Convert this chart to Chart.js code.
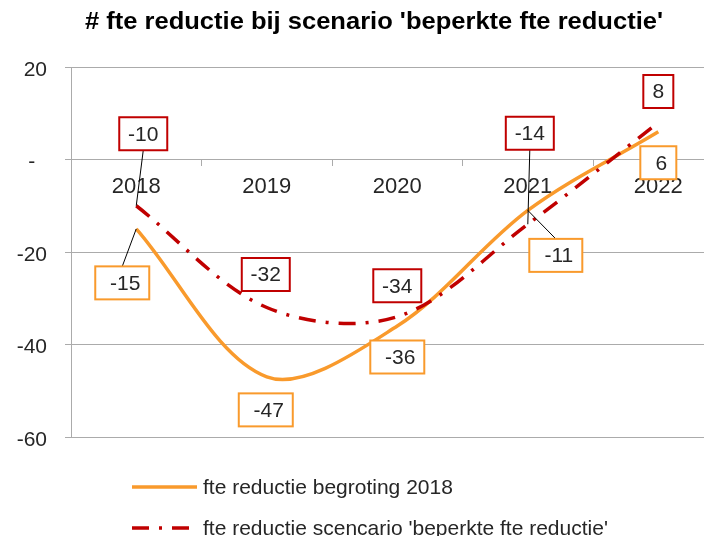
<!DOCTYPE html>
<html>
<head>
<meta charset="utf-8">
<title>fte reductie</title>
<script src="https://cdn.jsdelivr.net/npm/chart.js@4.4.1/dist/chart.umd.min.js"></script>
<style>
    html, body { margin: 0; padding: 0; background: #fff; overflow: hidden; }
    #chart { display: block; }
</style>
</head>
<body>
<canvas id="chart" width="704" height="536"></canvas>
<script>
// Chart data
const years = ['2018', '2019', '2020', '2021', '2022'];
const begroting = [-15, -47, -36, -11, 6];
const scenario = [-10, -32, -34, -14, 8];
const yTicks = [20, 0, -20, -40, -60];

const chartTitle = "# fte reductie bij scenario 'beperkte fte reductie'";
const seriesNames = ['fte reductie begroting 2018', "fte reductie scencario 'beperkte fte reductie'"];

const FONT = '"Liberation Sans", Arial, sans-serif';
const ORANGE = '#F99A2C';
const RED = '#C00000';
const GRID = '#ABABAB';
const TEXT = '#262626';

/**
 * Boxed value labels with leader lines (Excel style)
 */
const boxLabels = {
    id: 'boxLabels',
    afterDatasetsDraw(chart, args, opts) {
        const ctx = chart.ctx;
        ctx.save();
        ctx.font = opts.font;
        chart.data.datasets.forEach((ds, di) => {
            const meta = chart.getDatasetMeta(di);
            const style = opts.styles[di];
            meta.data.forEach((pt, i) => {
                const off = style.offsets[i];
                const text = String(ds.data[i].y);
                const w = Math.round(ctx.measureText(text).width + style.padX * 2);
                const h = opts.height;
                const cx = pt.x + off[0];
                const cy = pt.y + off[1];

                // leader line from box edge to the point
                if (off[2]) {
                    const ey = pt.y > cy ? cy + h / 2 : cy - h / 2;
                    ctx.strokeStyle = '#000';
                    ctx.lineWidth = 1;
                    ctx.beginPath();
                    ctx.moveTo(cx, ey);
                    ctx.lineTo(pt.x, pt.y);
                    ctx.stroke();
                }

                ctx.fillStyle = '#fff';
                ctx.fillRect(cx - w / 2, cy - h / 2, w, h);
                ctx.strokeStyle = ds.borderColor;
                ctx.lineWidth = 2;
                ctx.strokeRect(cx - w / 2, cy - h / 2, w, h);

                ctx.fillStyle = TEXT;
                ctx.textAlign = 'center';
                ctx.textBaseline = 'middle';
                ctx.fillText(text, cx + style.textShift, cy + 1);
            });
        });
        ctx.restore();
    }
};

/**
 * Title and stacked legend drawn by hand
 */
const titleLegend = {
    id: 'titleLegend',
    afterDraw(chart, args, opts) {
        const ctx = chart.ctx;
        ctx.save();

        // title, fitted to the reference width
        ctx.font = 'bold 24px ' + FONT;
        const tw = ctx.measureText(chartTitle).width;
        ctx.translate(opts.titleX, opts.titleY);
        ctx.scale(opts.titleWidth / tw, 1);
        ctx.fillStyle = '#000';
        ctx.textAlign = 'center';
        ctx.textBaseline = 'alphabetic';
        ctx.fillText(chartTitle, 0, 0);
        ctx.setTransform(1, 0, 0, 1, 0, 0);

        // legend rows
        chart.data.datasets.forEach((ds, i) => {
            const y = opts.rows[i];
            ctx.strokeStyle = ds.borderColor;
            ctx.lineWidth = ds.borderWidth;
            ctx.setLineDash(ds.borderDash || []);
            ctx.beginPath();
            ctx.moveTo(opts.lineX0, y);
            ctx.lineTo(opts.lineX1, y);
            ctx.stroke();
            ctx.setLineDash([]);

            ctx.font = '21px ' + FONT;
            ctx.fillStyle = TEXT;
            ctx.textAlign = 'left';
            ctx.textBaseline = 'middle';
            ctx.fillText(ds.label, opts.textX, y + 1);
        });
        ctx.restore();
    }
};

const ctx = document.getElementById('chart').getContext('2d');

new Chart(ctx, {
    type: 'line',
    data: {
        datasets: [
            {
                label: seriesNames[0],
                data: begroting.map((v, i) => ({ x: i, y: v })),
                borderColor: ORANGE,
                borderWidth: 3.5,
                tension: 0.33,
                pointRadius: 0,
                fill: false,
                order: 1
            },
            {
                label: seriesNames[1],
                data: scenario.map((v, i) => ({ x: i, y: v })),
                borderColor: RED,
                borderWidth: 3.5,
                borderDash: [17, 10, 3, 10],
                borderCapStyle: 'butt',
                tension: 0.33,
                pointRadius: 0,
                fill: false,
                order: 0
            }
        ]
    },
    options: {
        responsive: false,
        animation: false,
        layout: {
            padding: { top: 67, bottom: 99, left: 0, right: 0 }
        },
        plugins: {
            legend: { display: false },
            title: { display: false },
            tooltip: { enabled: false },
            boxLabels: {
                font: '21px ' + FONT,
                height: 33,
                styles: [
                    // orange: offsets [dx, dy, leader]
                    { padX: 12, textShift: 3, offsets: [[-14, 54, 1], [-1, 33], [0, 31], [28, 45, 1], [0, 31]] },
                    // red
                    { padX: 9, textShift: 0, offsets: [[7, -72, 1], [-1, -33], [0, -31], [2, -91, 1], [0, -31]] }
                ]
            },
            titleLegend: {
                titleX: 374,
                titleY: 29,
                titleWidth: 578,
                rows: [487, 528],
                lineX0: 132,
                lineX1: 197,
                textX: 203
            }
        },
        scales: {
            x: {
                type: 'linear',
                min: -0.5,
                max: 4.35,
                position: { y: 0 },
                afterBuildTicks: scale => {
                    const ticks = [];
                    for (let v = 0; v <= years.length - 1; v += 0.5) ticks.push({ value: v });
                    scale.ticks = ticks;
                },
                grid: {
                    drawOnChartArea: false,
                    tickLength: 6,
                    tickColor: c => (c.tick && Number.isInteger(c.tick.value)) ? 'rgba(0,0,0,0)' : GRID
                },
                border: { color: GRID, width: 1 },
                ticks: {
                    autoSkip: false,
                    maxRotation: 0,
                    padding: 8,
                    color: TEXT,
                    font: { family: FONT, size: 22 },
                    callback: v => Number.isInteger(v) ? years[v] : ''
                }
            },
            y: {
                min: -60,
                max: 20,
                afterBuildTicks: scale => {
                    scale.ticks = yTicks.map(v => ({ value: v }));
                },
                afterFit: scale => {
                    scale.width = 71;
                },
                grid: {
                    color: GRID,
                    tickLength: 6
                },
                border: { color: GRID, width: 1 },
                ticks: {
                    padding: 18,
                    labelOffset: 3,
                    color: TEXT,
                    font: { family: FONT, size: 21 },
                    callback: v => v === 0 ? '-  ' : String(v)
                }
            }
        }
    },
    plugins: [boxLabels, titleLegend]
});
</script>
</body>
</html>
